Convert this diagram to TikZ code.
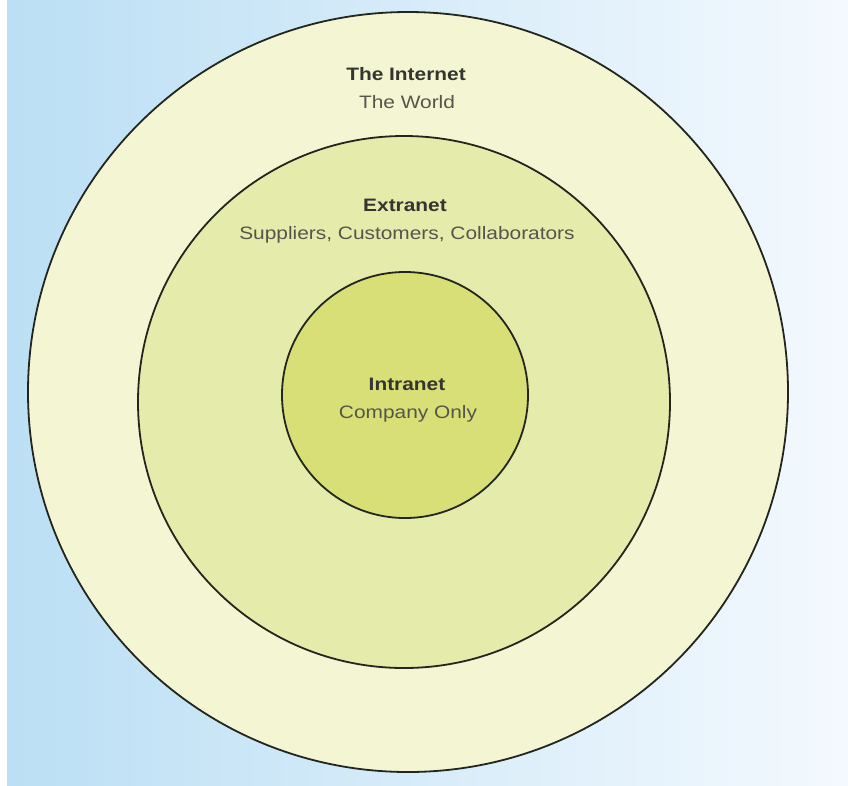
\documentclass[tikz,border=0pt]{standalone}
\usepackage{fontspec}
\setmainfont{Liberation Sans}
\newfontfamily\lblfont[FakeStretch=1.16]{Liberation Sans}
\definecolor{bgblue}{RGB}{187,223,244}
\definecolor{bgpale}{RGB}{244,249,254}
\definecolor{outerfill}{RGB}{244,245,210}
\definecolor{midfill}{RGB}{229,235,170}
\definecolor{innerfill}{RGB}{215,223,118}
\definecolor{ringline}{RGB}{35,38,30}
\definecolor{titlecol}{RGB}{52,52,48}
\definecolor{subcol}{RGB}{85,85,75}
\tikzset{
  ring/.style={circle, draw=ringline, line width=1.8pt, inner sep=0pt},
  titletext/.style={anchor=base, inner sep=0pt, text=titlecol, font=\lblfont\fontsize{18}{22}\selectfont\bfseries},
  subtext/.style={anchor=base, inner sep=0pt, text=subcol, font=\lblfont\fontsize{18}{22}\selectfont}
}
\begin{document}
\begin{tikzpicture}[x=1pt,y=-1pt]
\useasboundingbox (0,0) rectangle (848,785);
\fill[white] (0,0) rectangle (848,785);
\shade[left color=bgblue, right color=bgpale] (7,0) rectangle (848,785);
\node[ring, fill=outerfill, minimum size=760pt] (internet) at (408,392) {};
\node[ring, fill=midfill, minimum size=532pt] (extranet) at (404,402) {};
\node[ring, fill=innerfill, minimum size=246pt] (intranet) at (405,395) {};
\node[titletext] (t1) at (406,80.5) {The Internet};
\node[subtext] (s1) at (407,108.5) {The World};
\node[titletext] (t2) at (405,211.5) {Extranet};
\node[subtext] (s2) at (407,239.5) {Suppliers, Customers, Collaborators};
\node[titletext] (t3) at (407,390.5) {Intranet};
\node[subtext] (s3) at (408,418.5) {Company Only};
\end{tikzpicture}
\end{document}
